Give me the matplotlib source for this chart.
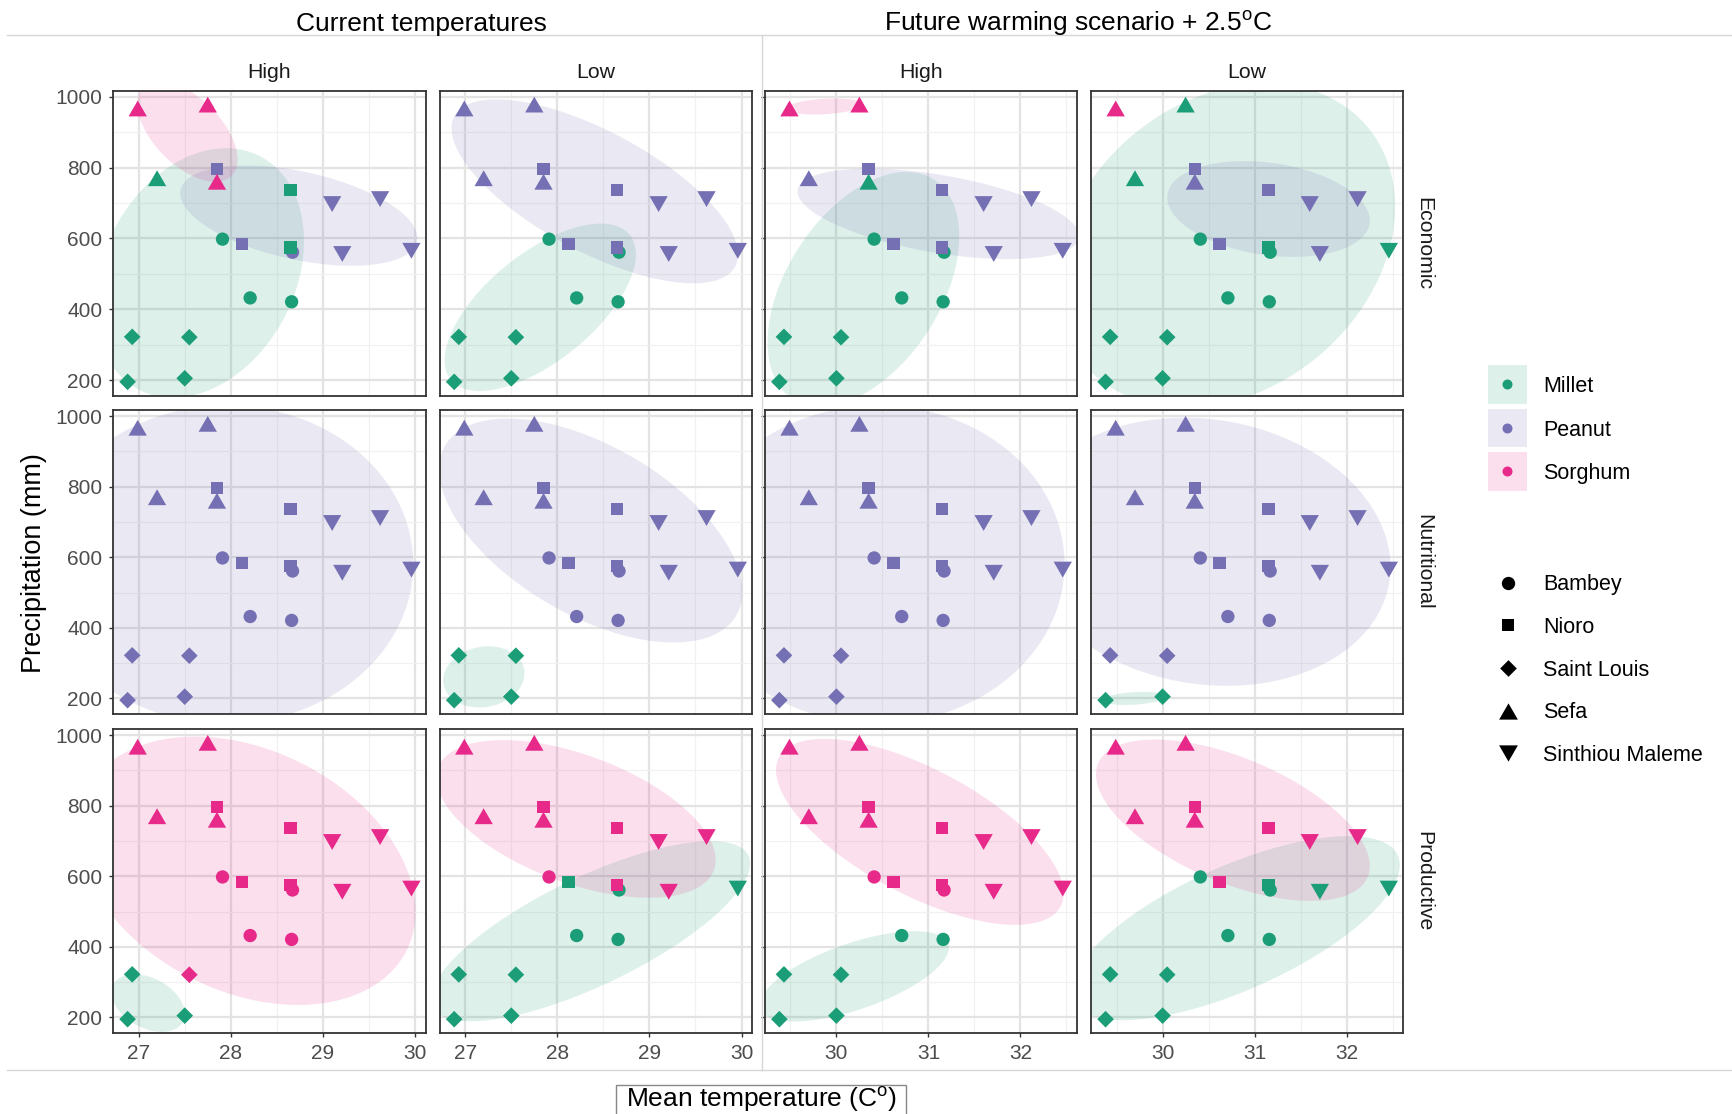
import numpy as np
import matplotlib
matplotlib.use("Agg")
import matplotlib.pyplot as plt
from matplotlib.patches import Polygon, Rectangle
from matplotlib.ticker import MultipleLocator

plt.rcParams['font.family'] = ['Liberation Sans', 'DejaVu Sans']
plt.rcParams['mathtext.fontset'] = 'custom'
plt.rcParams['mathtext.rm'] = 'Liberation Sans'
plt.rcParams['mathtext.it'] = 'Liberation Sans:italic'

# ---------------- data ----------------
station_names = ['Bambey', 'Nioro', 'Saint Louis', 'Sefa', 'Sinthiou Maleme']
stations = (['Bambey'] * 4 + ['Nioro'] * 4 + ['Saint Louis'] * 4
            + ['Sefa'] * 4 + ['Sinthiou Maleme'] * 4)
temp_current = [27.91, 28.67, 28.21, 28.66,
                27.85, 28.65, 28.12, 28.65,
                26.93, 27.55, 26.88, 27.50,
                26.99, 27.75, 27.20, 27.85,
                29.10, 29.62, 29.21, 29.96]
precipitation = [598, 561, 432, 421,
                 796, 737, 584, 575,
                 322, 321, 195, 205,
                 967, 978, 770, 760,
                 697, 711, 556, 565]
warming = 2.5

crop_names = ['Millet', 'Peanut', 'Sorghum']
crop_code = {'M': 'Millet', 'P': 'Peanut', 'S': 'Sorghum'}

# best crop per point (order: Bambey x4, Nioro x4, Saint Louis x4, Sefa x4, Sinthiou Maleme x4)
economic_current_high = "MPMM PMPM MMMM SSMS PPPP"
economic_current_low = "MMMM PPPP MMMM PPPP PPPP"
economic_future_high = "MMMM PPPP MMMM SSPM PPPP"
economic_future_low = "MMMM PPPM MMMM SMMP PPPM"
nutritional_current_high = "PPPP PPPP PPPP PPPP PPPP"
nutritional_current_low = "PPPP PPPP MMMM PPPP PPPP"
nutritional_future_high = "PPPP PPPP PPPP PPPP PPPP"
nutritional_future_low = "PPPP PPPP PPMM PPPP PPPP"
productive_current_high = "SSSS SSSS MSMM SSSS SSSS"
productive_current_low = "SMMM SSMS MMMM SSSS SSSM"
productive_future_high = "SSMM SSSS MMMM SSSS SSSS"
productive_future_low = "MMMM SSSM MMMM SSSS SSMM"

row_names = ['Economic', 'Nutritional', 'Productive']
scenario_titles = ['Current temperatures', 'Future warming scenario + 2.5$^{\\mathrm{o}}$C']
vulnerability = ['High', 'Low']

best = {
    ('Economic', 0, 'High'): economic_current_high,
    ('Economic', 0, 'Low'): economic_current_low,
    ('Economic', 1, 'High'): economic_future_high,
    ('Economic', 1, 'Low'): economic_future_low,
    ('Nutritional', 0, 'High'): nutritional_current_high,
    ('Nutritional', 0, 'Low'): nutritional_current_low,
    ('Nutritional', 1, 'High'): nutritional_future_high,
    ('Nutritional', 1, 'Low'): nutritional_future_low,
    ('Productive', 0, 'High'): productive_current_high,
    ('Productive', 0, 'Low'): productive_current_low,
    ('Productive', 1, 'High'): productive_future_high,
    ('Productive', 1, 'Low'): productive_future_low,
}

# ---------------- styles ----------------
crop_colors = {'Millet': '#1B9E77', 'Peanut': '#7570B3', 'Sorghum': '#E7298A'}
tri_up = [(0, 0.866), (-1, -0.866), (1, -0.866)]
tri_down = [(0, -0.866), (-1, 0.866), (1, 0.866)]
station_markers = {'Bambey': ('o', 92), 'Nioro': ('s', 81), 'Saint Louis': ('D', 72),
                   'Sefa': (tri_up, 174), 'Sinthiou Maleme': (tri_down, 174)}

W, H = 1733, 1114
fig = plt.figure(figsize=(W / 100, H / 100), dpi=100)

col_x = [(113.4, 425.6), (440.0, 752.0), (765.2, 1076.9), (1091.4, 1403.0)]
row_y = [(90.7, 395.7), (410.0, 714.0), (729.0, 1033.0)]


def enclosing_ellipse(p, n=240, tol=0.01):
    p = np.asarray(p, float)
    if len(p) == 2:
        c = p.mean(axis=0)
        v = p[1] - p[0]
        d = np.hypot(*v)
        ang = np.arctan2(v[1], v[0])
        a, b = 0.55 * d, 0.11 * d
        R = np.array([[np.cos(ang), -np.sin(ang)], [np.sin(ang), np.cos(ang)]])
    else:
        N, dim = p.shape
        Q = np.vstack([p.T, np.ones(N)])
        u = np.full(N, 1.0 / N)
        err = 1.0
        it = 0
        while err > tol and it < 50000:
            X = (Q * u) @ Q.T
            M = np.einsum('ij,jk,ki->i', Q.T, np.linalg.inv(X), Q)
            j = np.argmax(M)
            step = (M[j] - dim - 1) / ((dim + 1) * (M[j] - 1))
            new_u = (1 - step) * u
            new_u[j] += step
            err = np.linalg.norm(new_u - u)
            u = new_u
            it += 1
        c = p.T @ u
        A = np.linalg.inv((p.T * u) @ p - np.outer(c, c)) / dim
        m = max(float((q - c) @ A @ (q - c)) for q in p)
        if m > 1:
            A = A / m
        w, V = np.linalg.eigh(A)
        a, b = 1 / np.sqrt(w[0]), 1 / np.sqrt(w[1])
        R = V
    t = np.linspace(0, 2 * np.pi, n)
    circ = np.vstack([a * np.cos(t), b * np.sin(t)])
    return (R @ circ).T + c


def expanded(vals):
    lo, hi = min(vals), max(vals)
    r = hi - lo
    return lo - 0.05 * r, hi + 0.05 * r


temp_future = [t + warming for t in temp_current]
temps_by_scen = [temp_current, temp_future]
ylim = expanded(precipitation)

for r, row in enumerate(row_names):
    for c in range(4):
        scen = c // 2
        vul = vulnerability[c % 2]
        x0, x1 = col_x[c]
        y0, y1 = row_y[r]
        ax = fig.add_axes([x0 / W, 1 - y1 / H, (x1 - x0) / W, (y1 - y0) / H])
        temps = np.array(temps_by_scen[scen])
        prec = np.array(precipitation, float)
        ax.set_xlim(expanded(temps))
        ax.set_ylim(ylim)
        ax.set_axisbelow(True)
        ax.xaxis.set_major_locator(MultipleLocator(1))
        ax.xaxis.set_minor_locator(MultipleLocator(0.5))
        ax.yaxis.set_major_locator(MultipleLocator(200))
        ax.yaxis.set_minor_locator(MultipleLocator(100))
        ax.grid(which='major', color='#E3E3E3', lw=1.6)
        ax.grid(which='minor', color='#F1F1F1', lw=0.9)
        ax.tick_params(which='minor', length=0)
        ax.tick_params(which='major', length=3, width=1, color='#333333',
                       labelsize=15, labelcolor='#4D4D4D', pad=5)
        if c != 0:
            ax.tick_params(axis='y', labelleft=False)
        if c in (1, 3):
            ax.tick_params(axis='y', left=False)
        if r != 2:
            ax.tick_params(axis='x', bottom=False, labelbottom=False)
        for sp in ax.spines.values():
            sp.set_color('#333333')
            sp.set_linewidth(1.3)

        codes = list(''.join(best[(row, scen, vul)].split()))
        crops = [crop_code[k] for k in codes]
        # ellipses
        for crop in crop_names:
            idx = [i for i, cr in enumerate(crops) if cr == crop]
            if len(idx) < 2:
                continue
            pts = np.column_stack([temps[idx], prec[idx]])
            pix = ax.transData.transform(pts)
            bpix = enclosing_ellipse(pix)
            bdat = ax.transData.inverted().transform(bpix)
            ax.add_patch(Polygon(bdat, closed=True, facecolor=crop_colors[crop],
                                 alpha=0.15, edgecolor='none', zorder=1))
        # points (drawn station by station)
        for st in station_names:
            idx = [i for i, s in enumerate(stations) if s == st]
            mk, sz = station_markers[st]
            ax.scatter(temps[idx], prec[idx], marker=mk, s=sz,
                       c=[crop_colors[crops[i]] for i in idx], linewidths=0, zorder=3)

# ---------------- overlay: titles, strips, labels, legends ----------------
ov = fig.add_axes([0, 0, 1, 1])
ov.set_xlim(0, W)
ov.set_ylim(H, 0)
ov.axis('off')

ov.plot([7, W], [35, 35], color='#D6D6D6', lw=1.0)
ov.plot([7, W], [1070, 1070], color='#D6D6D6', lw=1.0)
ov.plot([762, 762], [35, 1070], color='#D6D6D6', lw=1.0)

ov.text(421.7, 30.5, scenario_titles[0], ha='center', va='baseline', fontsize=19, color='black')
ov.text(1078, 30.5, scenario_titles[1], ha='center', va='baseline', fontsize=19, color='black')

for c in range(4):
    xc = (col_x[c][0] + col_x[c][1]) / 2
    ov.text(xc, 78.3, vulnerability[c % 2], ha='center', va='baseline', fontsize=15.3, color='#1A1A1A')
for r, row in enumerate(row_names):
    yc = (row_y[r][0] + row_y[r][1]) / 2
    ov.text(1423.5, yc, row, rotation=270, ha='center', va='center', fontsize=15.3, color='#1A1A1A')

ov.text(34, 563, 'Precipitation (mm)', rotation=90, ha='center', va='center', fontsize=19.5, color='black')
ov.text(761.5, 1106.5, 'Mean temperature (C$^{\\mathrm{o}}$)', ha='center', va='baseline',
        fontsize=19, color='black')
ov.add_patch(Rectangle((616, 1085), 290, 45, facecolor='none', edgecolor='#888888', lw=1.0))

# crop legend
for i, crop in enumerate(crop_names):
    ytop = 365 + i * 43.5
    ov.add_patch(Rectangle((1488, ytop), 39, 38.5, facecolor=crop_colors[crop], alpha=0.15,
                           edgecolor='none'))
    ov.plot([1507.5], [ytop + 19.25], marker='o', markersize=7.2, color=crop_colors[crop],
            markeredgewidth=0)
    ov.text(1543, ytop + 27.5, crop, ha='left', va='baseline', fontsize=15.5, color='black')

# station legend
for i, st in enumerate(station_names):
    yc = 582.7 + i * 42.65
    mk, sz = station_markers[st]
    ov.scatter([1507.7], [yc], marker=mk, s=sz if mk not in (tri_up, tri_down) else sz * 1.05,
               c='black', linewidths=0)
    ov.text(1543, yc + 7.7, st, ha='left', va='baseline', fontsize=15.5, color='black')

fig.savefig('out.png', dpi=100)
